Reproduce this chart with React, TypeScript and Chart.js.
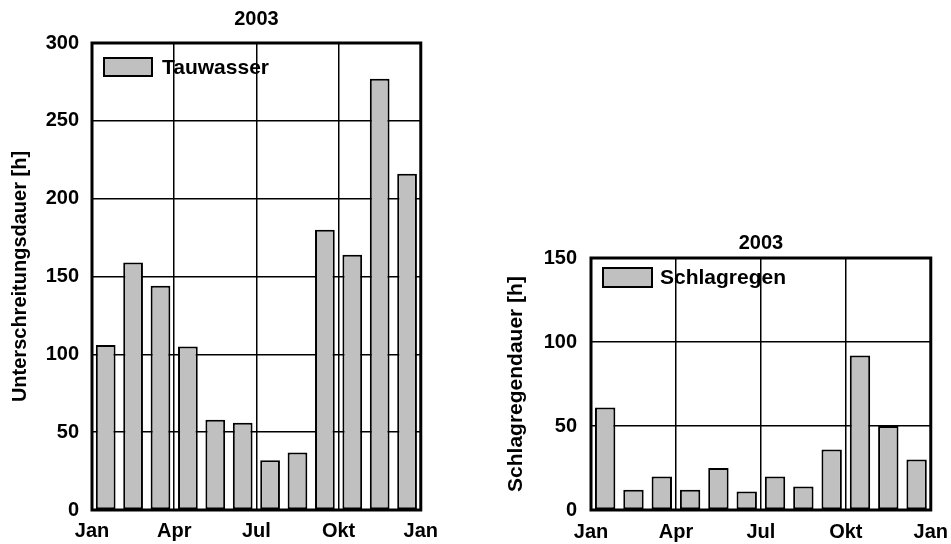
import React, { useEffect, useRef } from 'react';
import { Chart, registerables } from 'chart.js';

Chart.register(...registerables);

const months = ['Jan', 'Feb', 'Mär', 'Apr', 'Mai', 'Jun', 'Jul', 'Aug', 'Sep', 'Okt', 'Nov', 'Dez'];
const quarterTickLabels = ['Jan', 'Apr', 'Jul', 'Okt', 'Jan'];
const tauwasserValues = [106, 159, 144, 105, 58, 56, 32, 37, 180, 164, 277, 216];
const schlagregenValues = [61, 12, 20, 12, 25, 11, 20, 14, 36, 92, 50, 30];
const chartTitle = '2003';
const leftYTitle = 'Unterschreitungsdauer [h]';
const rightYTitle = 'Schlagregendauer [h]';
const leftLegend = 'Tauwasser';
const rightLegend = 'Schlagregen';

const FONT = '"Liberation Sans", Arial, Helvetica, sans-serif';

const decorPlugin = {
  id: 'decor',
  afterDatasetsDraw(chart: any, _args: any, opts: any) {
    const { ctx, chartArea: ca } = chart;
    ctx.save();
    ctx.strokeStyle = '#000';
    ctx.lineWidth = 3;
    ctx.strokeRect(ca.left, ca.top, ca.right - ca.left, ca.bottom - ca.top);
    const bx = ca.left + opts.legendDx;
    const by = ca.top + opts.legendDy;
    ctx.fillStyle = '#c0c0c0';
    ctx.fillRect(bx, by, opts.boxW, opts.boxH);
    ctx.lineWidth = 2;
    ctx.strokeRect(bx, by, opts.boxW, opts.boxH);
    ctx.fillStyle = '#000';
    ctx.font = `bold ${opts.legendSize}px ${FONT}`;
    ctx.textBaseline = 'middle';
    ctx.textAlign = 'left';
    ctx.fillText(opts.label, bx + opts.boxW + opts.textGap, by + opts.boxH / 2 + 1);
    ctx.textAlign = 'center';
    ctx.font = `bold ${opts.titleSize}px ${FONT}`;
    ctx.fillText(opts.title, (ca.left + ca.right) / 2, ca.top - opts.titleDy);
    ctx.restore();
  },
};

function BarPanel(props: any) {
  const ref = useRef<HTMLCanvasElement>(null);
  useEffect(() => {
    const p = props;
    const chart = new Chart(ref.current as HTMLCanvasElement, {
      type: 'bar',
      data: {
        labels: months,
        datasets: [
          {
            label: p.label,
            data: p.values,
            backgroundColor: '#c0c0c0',
            borderColor: '#000',
            borderWidth: 2,
            borderSkipped: false,
            barPercentage: 0.72,
            categoryPercentage: 1,
            xAxisID: 'x',
            yAxisID: 'y',
          },
        ],
      },
      options: {
        responsive: false,
        animation: false,
        layout: { padding: p.pad },
        plugins: {
          legend: { display: false },
          title: { display: false },
          tooltip: { enabled: false },
          decor: p.decor,
        } as any,
        scales: {
          x: { type: 'category', display: false, offset: true },
          x2: {
            type: 'linear',
            position: 'bottom',
            min: 0,
            max: 12,
            offset: false,
            border: { display: false },
            grid: { color: '#000', lineWidth: 1.5, drawTicks: false, offset: false },
            ticks: {
              stepSize: 3,
              autoSkip: false,
              maxRotation: 0,
              padding: p.xTickPad,
              color: '#000',
              font: { family: FONT, size: p.tickSize, weight: 'bold' },
              callback: (v: any) => quarterTickLabels[Math.round(Number(v) / 3)] ?? '',
            },
            afterFit: (s: any) => {
              s.height = p.xAxisHeight;
            },
          },
          y: {
            type: 'linear',
            min: 0,
            max: p.yMax,
            border: { display: false },
            grid: { color: '#000', lineWidth: 1.5, drawTicks: false },
            ticks: {
              stepSize: 50,
              padding: p.yTickPad,
              color: '#000',
              font: { family: FONT, size: p.tickSize, weight: 'bold' },
            },
            title: {
              display: true,
              text: p.yTitle,
              color: '#000',
              padding: { top: p.yTitlePadTop, bottom: 0 },
              font: { family: FONT, size: p.yTitleSize, weight: 'bold' },
            },
            afterFit: (s: any) => {
              s.width = p.yAxisWidth;
            },
          },
        } as any,
      },
      plugins: [decorPlugin],
    } as any);
    return () => chart.destroy();
  }, []);
  return (
    <canvas
      ref={ref}
      width={props.width}
      height={props.height}
      style={{ position: 'absolute', left: props.left, top: props.top, width: props.width, height: props.height }}
    />
  );
}

export default function App() {
  return (
    <div style={{ position: 'fixed', left: 0, top: 0, width: 951, height: 544, background: '#fff', overflow: 'hidden' }}>
      <BarPanel
        left={0}
        top={0}
        width={447}
        height={544}
        values={tauwasserValues}
        label={leftLegend}
        yMax={300}
        yTitle={leftYTitle}
        pad={{ left: 0, top: 43, right: 10, bottom: 0 }}
        yAxisWidth={92}
        xAxisHeight={34}
        yTitlePadTop={8}
        yTitleSize={20}
        yTickPad={13}
        xTickPad={9}
        tickSize={20}
        decor={{ legendDx: 12, legendDy: 15, boxW: 48, boxH: 18, textGap: 10, legendSize: 21, label: leftLegend, title: chartTitle, titleSize: 20, titleDy: 24 }}
      />
      <BarPanel
        left={480}
        top={225}
        width={478}
        height={319}
        values={schlagregenValues}
        label={rightLegend}
        yMax={150}
        yTitle={rightYTitle}
        pad={{ left: 0, top: 33, right: 10, bottom: 0 }}
        yAxisWidth={111}
        xAxisHeight={34}
        yTitlePadTop={24}
        yTitleSize={21}
        yTickPad={14}
        xTickPad={10}
        tickSize={20}
        decor={{ legendDx: 12, legendDy: 10, boxW: 49, boxH: 19, textGap: 8, legendSize: 21, label: rightLegend, title: chartTitle, titleSize: 20, titleDy: 15 }}
      />
    </div>
  );
}
